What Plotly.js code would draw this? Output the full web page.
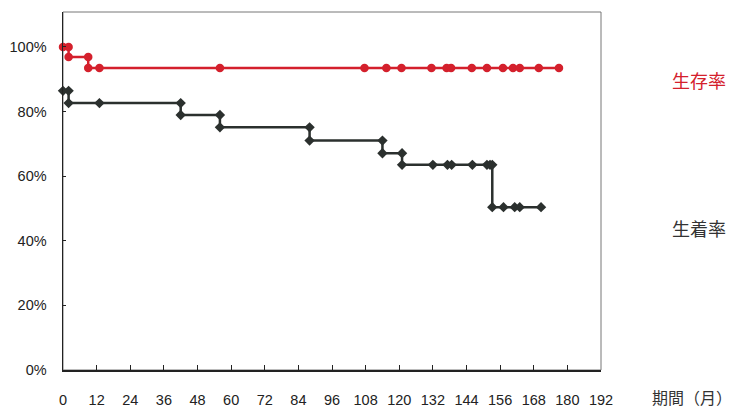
<!DOCTYPE html>
<html>
<head>
<meta charset="utf-8">
<script src="https://cdn.plot.ly/plotly-3.0.1.min.js"></script>
<style>html,body{margin:0;padding:0;background:#fff;}#chart{width:741px;height:408px;}</style>
</head>
<body>
<div id="chart"></div>
<script>
// Survival rate (生存率) – step points, months and %
const survivalMonths = [0, 2, 2, 9, 9, 13, 56, 107.6, 115.4, 120.8, 131.5, 136.9, 138.5, 145.9, 151.3, 157, 160.6, 163, 169.8, 177];
const survivalRates  = [100, 100, 96.9, 96.9, 93.5, 93.5, 93.5, 93.5, 93.5, 93.5, 93.5, 93.5, 93.5, 93.5, 93.5, 93.5, 93.5, 93.5, 93.5, 93.5];

// Engraftment rate (生着率)
const graftMonths = [0, 2, 2, 13, 42, 42, 56, 56, 88, 88, 114, 114, 121, 121, 132, 137.2, 138.7, 146.1, 151.3, 152.4, 153.2, 153.2, 157.2, 161.2, 163, 170.6];
const graftRates  = [86.4, 86.4, 82.6, 82.6, 82.6, 78.9, 78.9, 75.1, 75.1, 71.0, 71.0, 67.1, 67.1, 63.5, 63.5, 63.5, 63.5, 63.5, 63.5, 63.5, 63.5, 50.4, 50.4, 50.4, 50.4, 50.4];

const xTicks = [0, 12, 24, 36, 48, 60, 72, 84, 96, 108, 120, 132, 144, 156, 168, 180, 192];
const yTicks = [0, 20, 40, 60, 80, 100];
const yTickLabels = ['0%', '20%', '40%', '60%', '80%', '100%'];

const seriesNames = ['生存率', '生着率'];
const xAxisLabel = '期間（月）';

const red = '#d4202c';
const dark = '#2b302e';

const traces = [
  {
    x: survivalMonths, y: survivalRates, type: 'scatter', mode: 'lines+markers',
    name: seriesNames[0],
    line: {color: red, width: 2.5},
    marker: {symbol: 'circle', size: 8.5, color: red},
    cliponaxis: false
  },
  {
    x: graftMonths, y: graftRates, type: 'scatter', mode: 'lines+markers',
    name: seriesNames[1],
    line: {color: dark, width: 2.5},
    marker: {symbol: 'diamond', size: 8, color: dark},
    cliponaxis: false
  }
];

const tickFont = {family: 'Liberation Sans, Arial, sans-serif', size: 14.5, color: '#222'};
const cjkFont = 'Noto Sans CJK JP, sans-serif';

const layout = {
  width: 741, height: 408,
  margin: {l: 63, r: 140, t: 12, b: 38},
  paper_bgcolor: '#fff', plot_bgcolor: '#fff',
  showlegend: false,
  xaxis: {
    range: [0, 192], tickvals: xTicks, ticktext: xTicks.map(String),
    ticks: 'inside', ticklen: 5, tickcolor: '#222', tickwidth: 1,
    showline: true, linecolor: '#222', linewidth: 1.5,
    showgrid: false, zeroline: false,
    tickfont: tickFont, ticklabelstandoff: 16
  },
  yaxis: {
    range: [0, 110.8], tickvals: yTicks, ticktext: yTickLabels,
    ticks: 'inside', ticklen: 3, tickcolor: '#222',
    showline: true, linecolor: '#222', linewidth: 1.5,
    showgrid: false, zeroline: false,
    tickfont: tickFont, ticklabelstandoff: 12
  },
  shapes: [
    {type: 'rect', xref: 'paper', yref: 'paper', x0: 0, x1: 1, y0: 0, y1: 1,
     line: {color: '#777', width: 1}, layer: 'below'}
  ],
  annotations: [
    {xref: 'paper', yref: 'paper', x: 1.182, y: 0.81, xanchor: 'center', yanchor: 'middle',
     text: seriesNames[0], showarrow: false,
     font: {family: cjkFont, size: 18, color: red}},
    {xref: 'paper', yref: 'paper', x: 1.182, y: 0.397, xanchor: 'center', yanchor: 'middle',
     text: seriesNames[1], showarrow: false,
     font: {family: cjkFont, size: 18, color: '#333'}},
    {xref: 'paper', yref: 'paper', x: 1.169, y: -0.075, xanchor: 'center', yanchor: 'middle',
     text: xAxisLabel, showarrow: false,
     font: {family: cjkFont, size: 16, color: '#333'}}
  ]
};

Plotly.newPlot('chart', traces, layout, {displayModeBar: false, staticPlot: true});
</script>
</body>
</html>
